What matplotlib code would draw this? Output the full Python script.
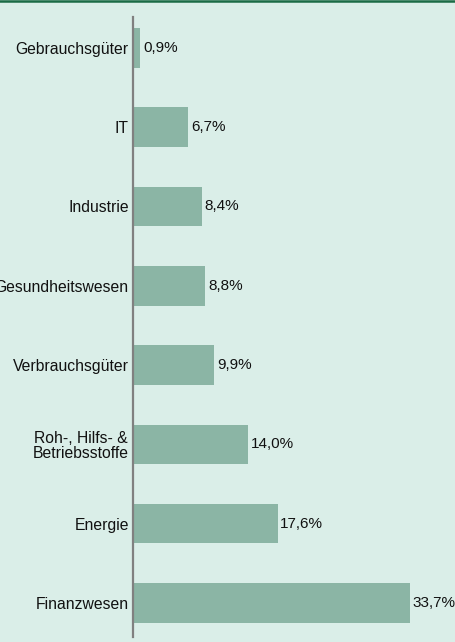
import matplotlib
matplotlib.use("Agg")
import matplotlib.pyplot as plt

categories = ["Gebrauchsgüter", "IT", "Industrie", "Gesundheitswesen",
              "Verbrauchsgüter", "Roh-, Hilfs- &\nBetriebsstoffe", "Energie", "Finanzwesen"]
values = [0.9, 6.7, 8.4, 8.8, 9.9, 14.0, 17.6, 33.7]
value_labels = ["0,9%", "6,7%", "8,4%", "8,8%", "9,9%", "14,0%", "17,6%", "33,7%"]

bg = "#DAEEE8"
bar_color = "#8BB5A5"

plt.rcParams['font.family'] = ['Liberation Sans', 'DejaVu Sans']

fig = plt.figure(figsize=(4.55, 6.42), dpi=100, facecolor=bg)
W, H = 455, 642
ax = fig.add_axes([133 / W, 1 - 637 / H, (W - 133) / W, (637 - 17) / H])
ax.set_facecolor(bg)

y = list(range(len(categories)))
ax.barh(y, values, height=0.5, color=bar_color, left=0)
ax.set_ylim(7.43, -0.39)
ax.set_xlim(0, 39.2)

for yi, v, lab in zip(y, values, value_labels):
    ax.annotate(lab, (v, yi), xytext=(2, 0), textcoords="offset points",
                ha="left", va="center", fontsize=11, color="#111111")

ax.set_yticks(y)
ax.set_yticklabels(categories, fontsize=11.3, color="#111111")
ax.tick_params(axis="y", length=0, pad=3)
for t in ax.get_yticklabels():
    t.set_ha("right")
    t.set_multialignment("center")
    t.set_linespacing(1.0)
ax.set_xticks([])
for s in ["top", "right", "bottom"]:
    ax.spines[s].set_visible(False)
ax.spines["left"].set_color("#808080")
ax.spines["left"].set_linewidth(1.6)

# top dark green border line
fig.add_artist(plt.Line2D([0, 1], [1 - 1 / H, 1 - 1 / H], transform=fig.transFigure,
                          color="#1B6B45", linewidth=1.8))

fig.savefig("out.png", dpi=100, facecolor=bg)
